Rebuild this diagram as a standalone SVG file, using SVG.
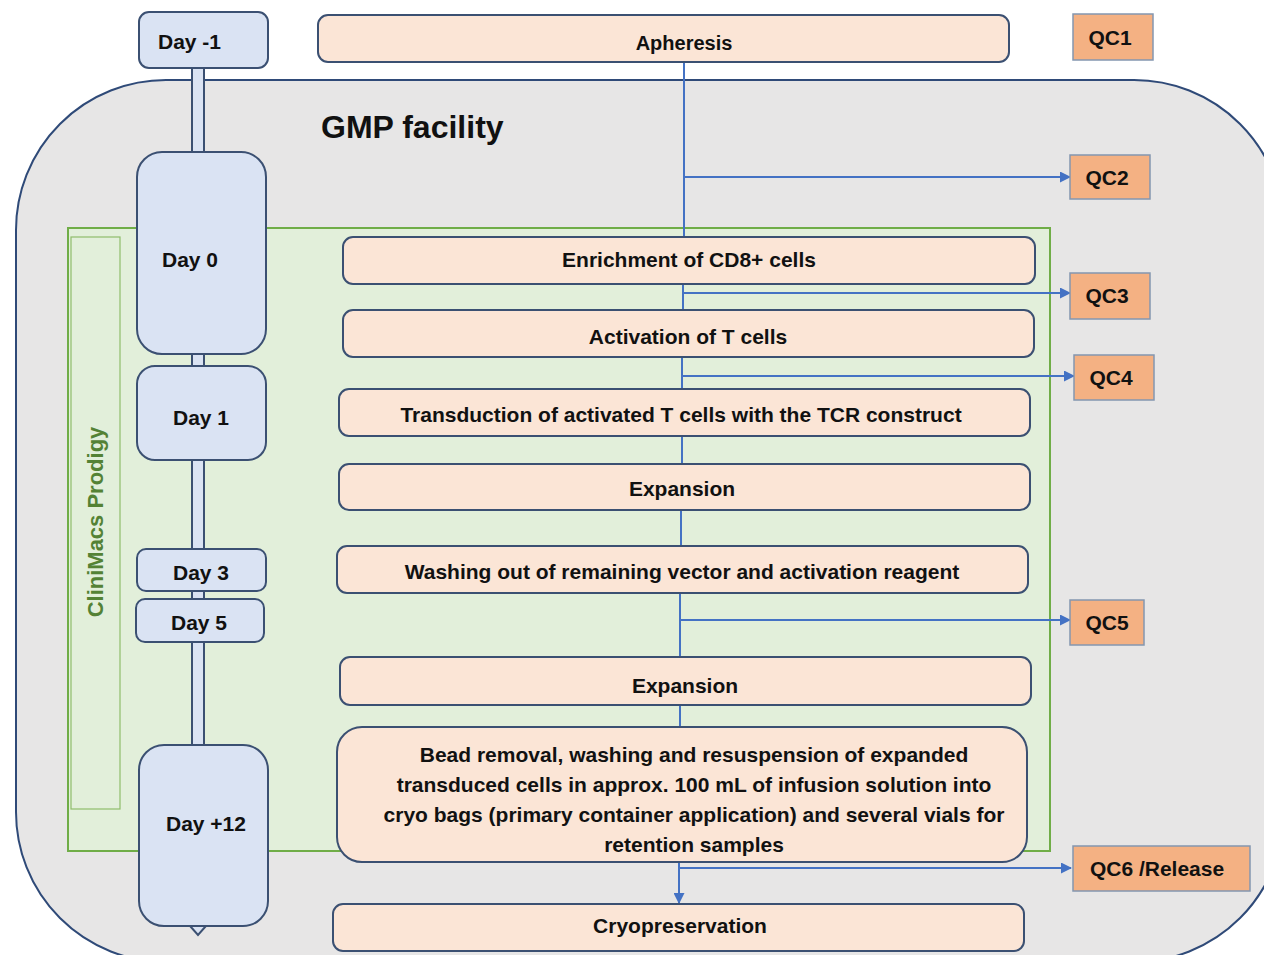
<svg xmlns="http://www.w3.org/2000/svg" width="1264" height="955" viewBox="0 0 1264 955">
<defs>
<marker id="arr" markerWidth="11" markerHeight="11" refX="10" refY="5.5" orient="auto" markerUnits="userSpaceOnUse">
<path d="M0,0 L11,5.5 L0,11 z" fill="#4472c4"/>
</marker>
<style>
.t{font-family:"Liberation Sans",Arial,sans-serif;font-weight:bold;font-size:21px;fill:#111;}
.c{text-anchor:middle;}
.proc{fill:#fbe5d6;stroke:#3b5072;stroke-width:2;}
.day{fill:#dae3f3;stroke:#3b5072;stroke-width:2;}
.qc{fill:#f4b183;stroke:#8497b0;stroke-width:1.5;}
.con{stroke:#4472c4;stroke-width:2;fill:none;}
</style>
</defs>
<rect width="1264" height="955" fill="#ffffff"/>
<g id="gmp">
<rect x="16" y="80" width="1268" height="882" rx="150" ry="150" fill="#e7e6e6" stroke="#2f4a78" stroke-width="2"/>
<text class="t" x="321" y="138" style="font-size:32px">GMP facility</text>
</g>
<g id="prodigy">
<rect x="68" y="228" width="982" height="623" fill="#e2efda" stroke="#70ad47" stroke-width="2"/>
<rect x="71" y="237" width="49" height="572" fill="#e2efda" stroke="#8fbc6c" stroke-width="1.2"/>
<text transform="translate(103,522) rotate(-90)" text-anchor="middle" style="font-family:'Liberation Sans',Arial,sans-serif;font-weight:bold;font-size:22px;fill:#548235">CliniMacs Prodigy</text>
</g>
<g id="timeline">
<rect x="192" y="66" width="12" height="682" class="day"/>
<polygon points="190,926 206,926 198,935" class="day"/>
</g>
<g id="day-1"><rect x="139" y="12" width="129" height="56" rx="10" class="day"/><text class="t" x="158" y="49">Day -1</text></g>
<g id="day0"><rect x="137" y="152" width="129" height="202" rx="25" class="day"/><text class="t" x="162" y="267">Day 0</text></g>
<g id="day1"><rect x="137" y="366" width="129" height="94" rx="18" class="day"/><text class="t" x="173" y="425">Day 1</text></g>
<g id="day3"><rect x="137" y="549" width="129" height="42" rx="9" class="day"/><text class="t" x="173" y="580">Day 3</text></g>
<g id="day5"><rect x="136" y="599" width="128" height="43" rx="9" class="day"/><text class="t" x="171" y="630">Day 5</text></g>
<g id="day12"><rect x="139" y="745" width="129" height="181" rx="25" class="day"/><text class="t" x="166" y="831">Day +12</text></g>
<g id="connectors">
<line x1="684" y1="62" x2="684" y2="237" class="con"/>
<line x1="684" y1="177" x2="1070" y2="177" class="con" marker-end="url(#arr)"/>
<line x1="683" y1="284" x2="683" y2="310" class="con"/>
<line x1="683" y1="293" x2="1070" y2="293" class="con" marker-end="url(#arr)"/>
<line x1="682" y1="357" x2="682" y2="389" class="con"/>
<line x1="682" y1="376" x2="1074" y2="376" class="con" marker-end="url(#arr)"/>
<line x1="682" y1="436" x2="682" y2="464" class="con"/>
<line x1="681" y1="510" x2="681" y2="546" class="con"/>
<line x1="680" y1="593" x2="680" y2="657" class="con"/>
<line x1="680" y1="620" x2="1070" y2="620" class="con" marker-end="url(#arr)"/>
<line x1="680" y1="705" x2="680" y2="727" class="con"/>
<line x1="679" y1="862" x2="679" y2="903" class="con" marker-end="url(#arr)"/>
<line x1="679" y1="868" x2="1071" y2="868" class="con" marker-end="url(#arr)"/>
</g>
<g id="apheresis"><rect x="318" y="15" width="691" height="47" rx="10" class="proc"/><text class="t c" x="684" y="50" style="font-size:20px">Apheresis</text></g>
<g id="enrichment"><rect x="343" y="237" width="692" height="47" rx="10" class="proc"/><text class="t c" x="689" y="267">Enrichment of CD8+ cells</text></g>
<g id="activation"><rect x="343" y="310" width="691" height="47" rx="10" class="proc"/><text class="t c" x="688" y="344">Activation of T cells</text></g>
<g id="transduction"><rect x="339" y="389" width="691" height="47" rx="10" class="proc"/><text class="t c" x="681" y="422">Transduction of activated T cells with the TCR construct</text></g>
<g id="expansion1"><rect x="339" y="464" width="691" height="46" rx="10" class="proc"/><text class="t c" x="682" y="496">Expansion</text></g>
<g id="washing"><rect x="337" y="546" width="691" height="47" rx="10" class="proc"/><text class="t c" x="682" y="579">Washing out of remaining vector and activation reagent</text></g>
<g id="expansion2"><rect x="340" y="657" width="691" height="48" rx="10" class="proc"/><text class="t c" x="685" y="693">Expansion</text></g>
<g id="bead"><rect x="337" y="727" width="690" height="135" rx="25" class="proc"/>
<text class="t c" x="694" y="762">Bead removal, washing and resuspension of expanded</text>
<text class="t c" x="694" y="792">transduced cells in approx. 100 mL of infusion solution into</text>
<text class="t c" x="694" y="822">cryo bags (primary container application) and several vials for</text>
<text class="t c" x="694" y="852">retention samples</text>
</g>
<g id="cryo"><rect x="333" y="904" width="691" height="47" rx="10" class="proc"/><text class="t c" x="680" y="933">Cryopreservation</text></g>
<g id="qc1"><rect x="1073" y="14" width="80" height="46" class="qc"/><text class="t c" x="1110" y="45">QC1</text></g>
<g id="qc2"><rect x="1070" y="155" width="80" height="44" class="qc"/><text class="t c" x="1107" y="185">QC2</text></g>
<g id="qc3"><rect x="1070" y="273" width="80" height="46" class="qc"/><text class="t c" x="1107" y="303">QC3</text></g>
<g id="qc4"><rect x="1074" y="355" width="80" height="45" class="qc"/><text class="t c" x="1111" y="385">QC4</text></g>
<g id="qc5"><rect x="1070" y="600" width="74" height="45" class="qc"/><text class="t c" x="1107" y="630">QC5</text></g>
<g id="qc6"><rect x="1073" y="846" width="177" height="45" class="qc"/><text class="t c" x="1157" y="876">QC6 /Release</text></g>
</svg>
